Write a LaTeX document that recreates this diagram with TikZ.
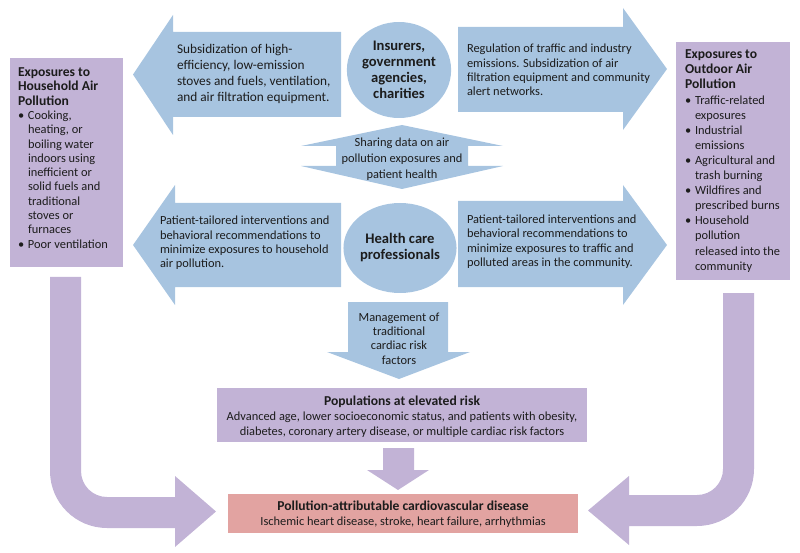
\documentclass[tikz,border=0pt]{standalone}
\usepackage{fontspec}
\setmainfont{Carlito}
\usetikzlibrary{shapes.geometric}
\definecolor{ablue}{RGB}{167,196,224}
\definecolor{apurple}{RGB}{194,179,214}
\definecolor{apink}{RGB}{226,163,161}
\definecolor{ink}{RGB}{28,28,28}
\newcommand{\bul}{\makebox[10pt][l]{•}}
\newcommand{\ind}{\hspace*{10pt}}
\newcommand{\ttl}[1]{{\fontsize{13.6}{14.3}\selectfont\bfseries #1}}
\begin{document}
\begin{tikzpicture}[x=1pt,y=-1pt,
  every node/.style={text=ink, inner sep=0pt, outer sep=0pt},
  bodytxt/.style={font=\fontsize{12.4}{14.4}\selectfont},
  lefttxt/.style={bodytxt, align=left, anchor=west},
  centxt/.style={bodytxt, align=center},
  bluefill/.style={fill=ablue},
  purplefill/.style={fill=apurple},
  pinkfill/.style={fill=apink},
  actor/.style={ellipse, fill=ablue, align=center, font=\fontsize{14.6}{16}\selectfont\bfseries}]
\useasboundingbox (0,0) rectangle (800,553);

% ---- top row arrows
\fill[bluefill] (341,32) -- (173,32) -- (173,15) -- (133,74.5) -- (173,135) -- (173,117) -- (341,117) -- cycle;
\fill[bluefill] (458,27) -- (623,27) -- (623,8) -- (667,69) -- (623,130) -- (623,112) -- (458,112) -- cycle;
% ---- middle row arrows
\fill[bluefill] (341,203) -- (175,203) -- (175,185) -- (133,245) -- (175,305) -- (175,287) -- (341,287) -- cycle;
\fill[bluefill] (458,201) -- (623,201) -- (623,185) -- (667,245) -- (623,305) -- (623,287) -- (458,287) -- cycle;
% ---- sharing up-down arrow
\fill[bluefill] (402,125) -- (503,146) -- (468,146) -- (468,166) -- (503,166) -- (402,189)
  -- (301,166) -- (336,166) -- (336,146) -- (301,146) -- cycle;
% ---- management down arrow
\fill[bluefill] (348,302) -- (448,302) -- (448,352) -- (470,352) -- (399,379) -- (327,352) -- (348,352) -- cycle;
% ---- side boxes
\fill[purplefill] (10,58) rectangle (123,267);
\fill[purplefill] (676,42) rectangle (790,280);
% ---- populations box and small arrow
\fill[purplefill] (217,388) rectangle (587,442);
\fill[purplefill] (383,448) -- (414,448) -- (414,470) -- (429,470) -- (398,490) -- (367,470) -- (383,470) -- cycle;
% ---- outcome box
\fill[pinkfill] (228,494) rectangle (578,533);
% ---- left curved arrow
\fill[purplefill] (50,277) -- (81,277) -- (81,471) .. controls (81,485.4) and (92.6,497) .. (107,497)
  -- (175,497) -- (175,476) -- (216,511.5) -- (175,547) -- (175,528) -- (107,528)
  .. controls (75.5,528) and (50,502.5) .. (50,471) -- cycle;
% ---- right curved arrow
\fill[purplefill] (723,293) -- (754,293) -- (754,469) .. controls (754,500.5) and (728.5,526) .. (697,526)
  -- (629,526) -- (629,545) -- (588,510.5) -- (629,476) -- (629,495) -- (697,495)
  .. controls (711.4,495) and (723,483.4) .. (723,469) -- cycle;

% ---- actors
\node[actor, minimum width=102pt, minimum height=96pt] (insurers) at (399,70)
  {Insurers,\\government\\agencies,\\charities};
\node[actor, minimum width=100pt, minimum height=90pt] (health) at (400,248)
  {Health care\\professionals};

% ---- arrow texts
\node[lefttxt, font=\fontsize{13.3}{16}\selectfont] (tltext) at (177,74)
  {Subsidization of high-\\efficiency, low-emission\\stoves and fuels, ventilation,\\and air filtration equipment.};
\node[lefttxt] (trtext) at (467,70)
  {Regulation of traffic and industry\\emissions. Subsidization of air\\filtration equipment and community\\alert networks.};
\node[lefttxt] (bltext) at (160,243)
  {Patient-tailored interventions and\\behavioral recommendations to\\minimize exposures to household\\air pollution.};
\node[lefttxt] (brtext) at (467,241.5)
  {Patient-tailored interventions and\\behavioral recommendations to\\minimize exposures to traffic and\\polluted areas in the community.};
\node[centxt, font=\fontsize{12.4}{16}\selectfont] (sharing) at (402,159)
  {Sharing data on air\\pollution exposures and\\patient health};
\node[centxt] (mgmt) at (399,338.5)
  {Management of\\traditional\\cardiac risk\\factors};

% ---- side box texts
\node[lefttxt, font=\fontsize{12.4}{14.3}\selectfont] (housetext) at (18,158)
  {\ttl{Exposures to}\\\ttl{Household Air}\\\ttl{Pollution}\\
   \bul Cooking,\\\ind heating, or\\\ind boiling water\\\ind indoors using\\\ind inefficient or\\
   \ind solid fuels and\\\ind traditional\\\ind stoves or\\\ind furnaces\\\bul Poor ventilation};
\node[lefttxt, font=\fontsize{12.4}{15.1}\selectfont] (outtext) at (685,161)
  {\ttl{Exposures to}\\\ttl{Outdoor Air}\\\ttl{Pollution}\\
   \bul Traffic-related\\\ind exposures\\\bul Industrial\\\ind emissions\\\bul Agricultural and\\
   \ind trash burning\\\bul Wildfires and\\\ind prescribed burns\\\bul Household\\\ind pollution\\
   \ind released into the\\\ind community};

% ---- bottom texts
\node[centxt, font=\fontsize{12.4}{15.2}\selectfont] (poptext) at (402,416.5)
  {\ttl{Populations at elevated risk}\\Advanced age, lower socioeconomic status, and patients with obesity,\\diabetes, coronary artery disease, or multiple cardiac risk factors};
\node[centxt, font=\fontsize{12.4}{15.2}\selectfont] (cvdtext) at (403,514)
  {\ttl{Pollution-attributable cardiovascular disease}\\Ischemic heart disease, stroke, heart failure, arrhythmias};
\end{tikzpicture}
\end{document}
